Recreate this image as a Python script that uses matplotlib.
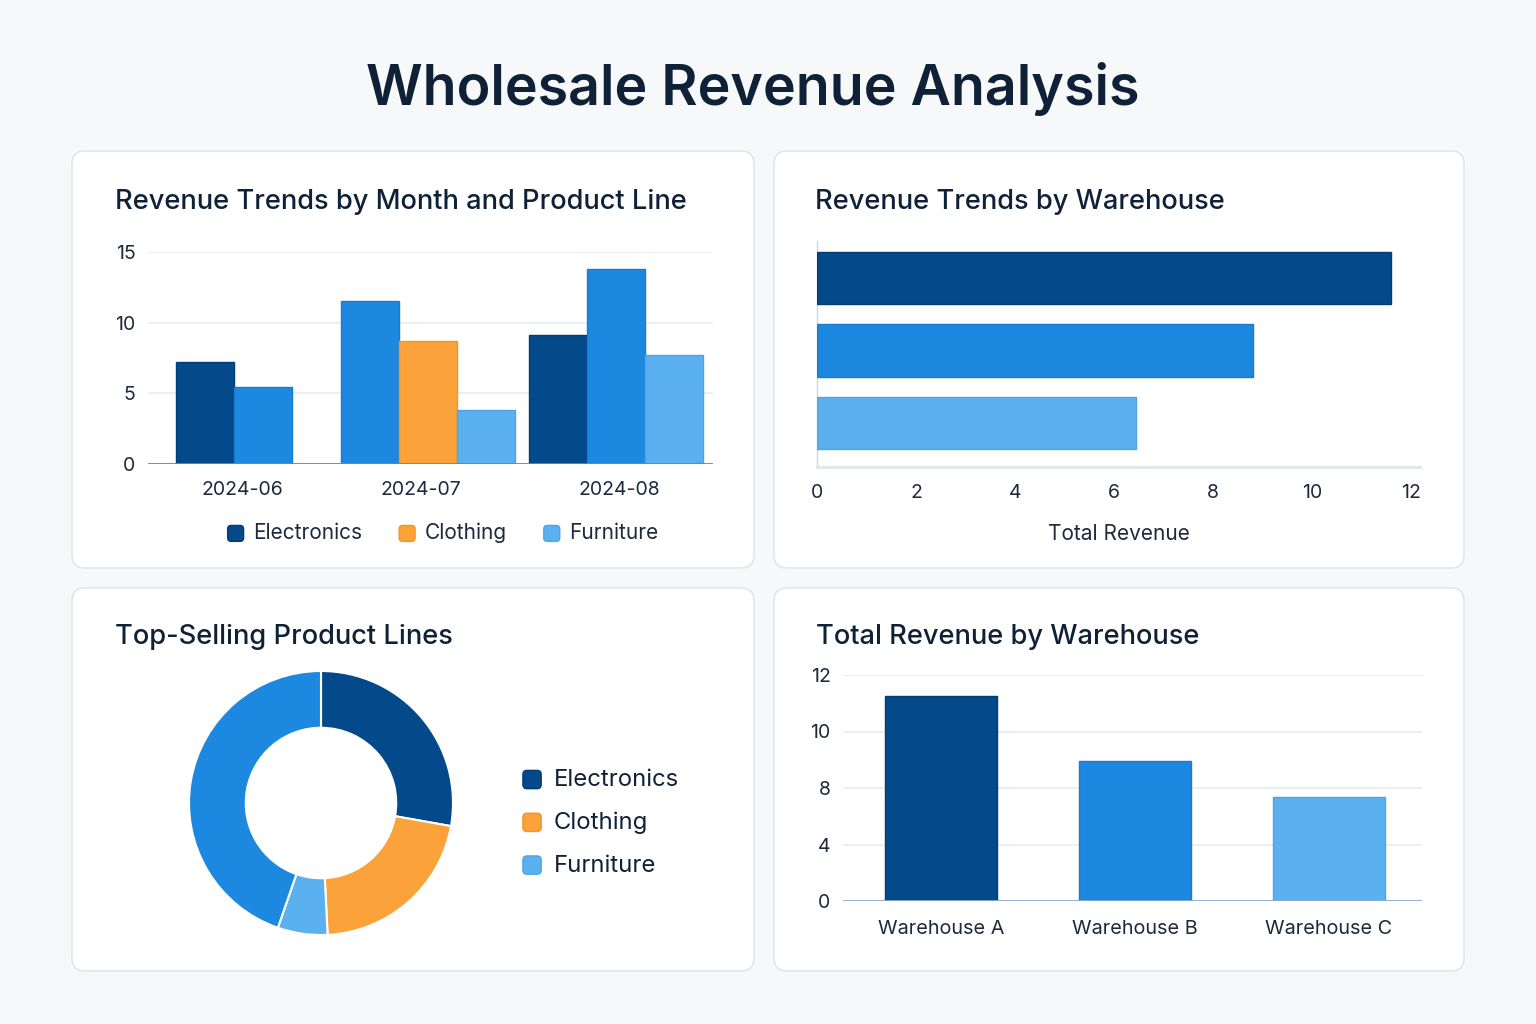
import numpy as np
import matplotlib
matplotlib.use("Agg")
import matplotlib.pyplot as plt
from matplotlib.patches import FancyBboxPatch, Patch
from matplotlib.transforms import IdentityTransform
from matplotlib.legend_handler import HandlerPatch

plt.rcParams['font.family'] = ['Inter', 'DejaVu Sans']

# ---------------- data ----------------
title = "Wholesale Revenue Analysis"
product_lines = ['Electronics', 'Clothing', 'Furniture']

months = ['2024-06', '2024-07', '2024-08']
month_bar_values = [[7.2, 5.45], [11.55, 8.7, 3.85], [9.15, 13.8, 7.7]]
month_bar_keys = [['navy', 'mid'], ['mid', 'orange', 'light'], ['navy', 'mid', 'light']]

warehouses = ['Warehouse A', 'Warehouse B', 'Warehouse C']
warehouse_trend_revenue = [11.6, 8.8, 6.45]
hbar_ticks = [0, 2, 4, 6, 8, 10, 12]

share_keys = ['navy', 'orange', 'light', 'mid']
share_values = [27.8, 21.4, 6.1, 44.7]

warehouse_totals = [11.25, 8.95, 7.35]
total_ticks = [0, 4, 8, 10, 12]
top_ticks = [0, 5, 10, 15]

# ---------------- style ----------------
COL = {'navy': '#044a8a', 'mid': '#1d88e0', 'light': '#5bb0f0', 'orange': '#fba23b'}
EDGE = {'navy': '#033d74', 'mid': '#1a7ad0', 'light': '#4fa4e6', 'orange': '#f39529'}
legend_keys = ['navy', 'orange', 'light']
TXT = '#0f2137'
TICK = '#1c2a3b'
GRID = '#e7ebf1'
BG = '#f7f8fa'

W, H = 1536, 1024
def fx(x): return x / W
def fy(y): return 1 - y / H

fig = plt.figure(figsize=(W / 100, H / 100), dpi=100, facecolor=BG)

# cards
cards = [(72, 151, 754, 568), (774, 151, 1464, 568), (72, 588, 754, 971), (774, 588, 1464, 971)]
for x0, y0, x1, y1 in cards:
    p = FancyBboxPatch((x0, H - y1), x1 - x0, y1 - y0,
                       boxstyle='round,pad=0,rounding_size=13',
                       transform=IdentityTransform(), fc='white', ec='#e2e6ec', lw=1.2,
                       zorder=-5)
    fig.add_artist(p)

fig.text(fx(753), fy(105), title, ha='center', va='baseline', fontsize=40,
         fontweight='semibold', color=TXT)
panel_titles = [("Revenue Trends by Month and Product Line", 115, 209),
                ("Revenue Trends by Warehouse", 815, 209),
                ("Top-Selling Product Lines", 115, 644),
                ("Total Revenue by Warehouse", 816, 644)]
for t, x, y in panel_titles:
    fig.text(fx(x), fy(y), t, ha='left', va='baseline', fontsize=19.6,
             fontweight='medium', color=TXT)


class RoundHandler(HandlerPatch):
    def create_artists(self, legend, orig_handle, xdescent, ydescent, width, height, fontsize, trans):
        s = min(width, height) * 1.0
        p = FancyBboxPatch((-xdescent + (width - s) / 2, -ydescent + (height - s) / 2 - 1), s, s,
                           boxstyle='round,pad=0,rounding_size=%f' % (s * 0.22),
                           fc=orig_handle.get_facecolor(), ec=orig_handle.get_edgecolor(), lw=1)
        p.set_transform(trans)
        return [p]


def style_common(ax):
    ax.set_facecolor('none')
    for s in ax.spines.values():
        s.set_visible(False)
    ax.tick_params(length=0, colors=TICK, labelsize=14)


# ---------------- panel 1: grouped bars ----------------
ax1 = fig.add_axes([fx(148), fy(464), (713 - 148) / W, (464 - 252) / H])
style_common(ax1)
group_starts = [0.48, 3.33, 6.57]
month_tick_pos = [1.62, 4.71, 8.12]
bar_w = 1.0
for gi, (vals, keys) in enumerate(zip(month_bar_values, month_bar_keys)):
    xs = group_starts[gi] + np.arange(len(vals)) * bar_w
    ax1.bar(xs, vals, width=bar_w, align='edge', color=[COL[k] for k in keys],
            edgecolor=[EDGE[k] for k in keys], linewidth=1, zorder=3)
ax1.set_xlim(0, 565 / 58)
ax1.set_ylim(0, 15)
ax1.set_yticks(top_ticks)
ax1.set_xticks(month_tick_pos)
ax1.set_xticklabels(months)
ax1.tick_params(axis='y', pad=9)
ax1.tick_params(axis='x', pad=12)
ax1.grid(axis='y', color=GRID, lw=1.2, zorder=0)
ax1.axhline(0, color='#4a8fd6', lw=1.3, zorder=4)
handles = [Patch(fc=COL[k], ec=EDGE[k]) for k in legend_keys]
fig.legend(handles, product_lines, loc='center', bbox_to_anchor=(fx(443), fy(533)), ncol=3,
           frameon=False, fontsize=15, handlelength=0.8, handleheight=0.8, handletextpad=0.45,
           columnspacing=1.75, labelcolor=TICK, handler_map={Patch: RoundHandler()})

# ---------------- panel 2: horizontal bars ----------------
ax2 = fig.add_axes([fx(817), fy(467), (1420 - 817) / W, (467 - 241) / H])
style_common(ax2)
ypos = np.arange(len(warehouses))
hkeys = ['navy', 'mid', 'light']
ax2.barh(ypos, warehouse_trend_revenue, height=0.72, color=[COL[k] for k in hkeys],
         edgecolor=[EDGE[k] for k in hkeys], linewidth=1, zorder=3)
ax2.set_ylim(2.607, -0.51)
ax2.set_xlim(0, 12 * 603 / 594)
ax2.set_xticks(hbar_ticks)
ax2.set_yticks([])
ax2.spines['left'].set_visible(True)
ax2.spines['left'].set_color('#c9d8ea')
ax2.spines['left'].set_linewidth(1)
ax2.spines['bottom'].set_visible(True)
ax2.spines['bottom'].set_color('#e3e8ef')
ax2.spines['bottom'].set_linewidth(2.2)
ax2.tick_params(axis='x', pad=12)
ax2.set_xlabel('Total Revenue', fontsize=15, color=TICK, labelpad=16)

# ---------------- panel 3: donut ----------------
R = 132
ax3 = fig.add_axes([fx(321 - 140), fy(803 + 140), 280 / W, 280 / H])
ax3.set_facecolor('none')
ax3.pie(share_values, colors=[COL[k] for k in share_keys], startangle=90, counterclock=False,
        radius=1, wedgeprops=dict(width=0.43, edgecolor='white', linewidth=1.5))
ax3.set_xlim(-140 / R, 140 / R)
ax3.set_ylim(-140 / R, 140 / R)
ax3.set_aspect('equal')
ax3.axis('off')
fig.legend(handles, product_lines, loc='center left', bbox_to_anchor=(fx(501), fy(823)), ncol=1,
           frameon=False, fontsize=17.2, handlelength=0.8, handleheight=0.8, handletextpad=0.5,
           labelspacing=0.85, labelcolor=TXT, handler_map={Patch: RoundHandler()})

# ---------------- panel 4: vertical bars ----------------
pos_map = np.arange(len(total_ticks), dtype=float)
def fwd(v):
    return np.interp(v, total_ticks, pos_map)
def inv(v):
    return np.interp(v, pos_map, total_ticks)

ax4 = fig.add_axes([fx(843), fy(901), (1422 - 843) / W, (901 - 675) / H])
style_common(ax4)
ax4.set_yscale('function', functions=(fwd, inv))
xpos = np.arange(len(warehouses))
ax4.bar(xpos, warehouse_totals, width=0.58, color=[COL[k] for k in hkeys],
        edgecolor=[EDGE[k] for k in hkeys], linewidth=1, zorder=3)
ax4.set_ylim(0, 12)
ax4.set_xlim(-0.505, 2.48)
ax4.set_yticks(total_ticks)
ax4.set_yticklabels([str(t) for t in total_ticks])
ax4.minorticks_off()
ax4.set_xticks(xpos)
ax4.set_xticklabels(warehouses)
ax4.tick_params(axis='y', pad=9)
ax4.tick_params(axis='x', pad=14, labelsize=14.3)
ax4.grid(axis='y', color=GRID, lw=1.2, zorder=0)
ax4.axhline(0, color='#8eaacb', lw=2, zorder=4)

fig.savefig('out.png', dpi=100, facecolor=BG)
